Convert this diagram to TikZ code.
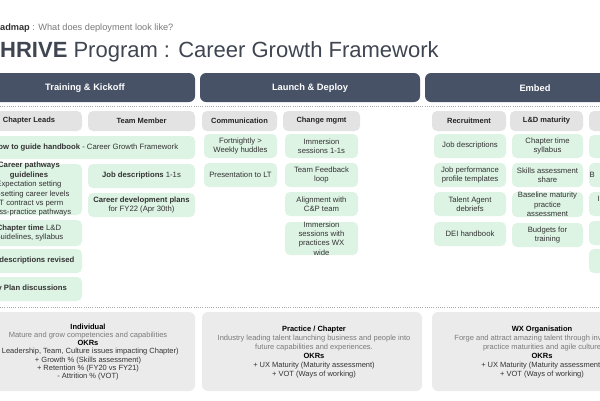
\documentclass[tikz,border=0pt]{standalone}
\usepackage{fontspec}
\setmainfont{Liberation Sans}
\definecolor{barc}{HTML}{475266}
\definecolor{hdrc}{HTML}{E3E3E3}
\definecolor{grn}{HTML}{DDF3E4}
\definecolor{botc}{HTML}{EBEBEB}
\definecolor{txtc}{HTML}{333333}
\definecolor{greyt}{HTML}{7A7A7A}
\definecolor{titc}{HTML}{3F4652}
\definecolor{dotc}{HTML}{AAAAAA}
\tikzset{
  bar/.style={fill=barc, rounded corners=6pt},
  bart/.style={inner sep=0, text=white, font=\bfseries\fontsize{9.3}{11}\selectfont},
  hdr/.style={fill=hdrc, rounded corners=5pt},
  hdrt/.style={inner sep=0, text=txtc!70!black, font=\bfseries\fontsize{7.5}{9}\selectfont},
  gbox/.style={fill=grn, rounded corners=5pt},
  gtxt/.style={inner sep=0, text=txtc, align=center, font=\fontsize{7.7}{9.4}\selectfont},
  bbox/.style={fill=botc, rounded corners=6pt},
  dotline/.style={draw=dotc, line width=0.6pt, dash pattern=on 0.6pt off 1.6pt},
}
\newcommand{\hb}[6]{\path[hdr] (#2,#3) rectangle (#4,#5); \node[hdrt] (#1) at ({(#2+#4)/2},{(#3+#5)/2}) {#6};}
\newcommand{\gb}[6]{\path[gbox] (#2,#3) rectangle (#4,#5); \node[gtxt] (#1) at ({(#2+#4)/2},{(#3+#5)/2}) {#6};}
\begin{document}
\begin{tikzpicture}[x=1pt,y=-1pt]
\useasboundingbox (0,0) rectangle (600,400);
\clip (0,0) rectangle (600,400);
\fill[white] (0,0) rectangle (600,400);

\node[anchor=west, inner sep=0, text=greyt, font=\fontsize{9.2}{11}\selectfont] (sub) at (0,28) {{\color{txtc}\bfseries admap} : What does deployment look like?};
\node[anchor=west, inner sep=0, text=titc, font=\fontsize{22}{26}\selectfont] (title) at (0,52) {\textbf{HRIVE} Program : Career Growth Framework};

% phase bars
\path[bar] (-25,73) rectangle (195,102); \node[bart] (b1) at (85,88) {Training \& Kickoff};
\path[bar] (200,73) rectangle (420,102); \node[bart] (b2) at (310,88) {Launch \& Deploy};
\path[bar] (425,73) rectangle (645,102); \node[bart] (b3) at (535,88) {Embed};

\draw[dotline] (0,106) -- (600,106);
\draw[dotline] (0,307) -- (600,307);

% column headers
\hb{h1}{-24}{111}{82}{131}{Chapter Leads}
\hb{h2}{88}{111}{195}{131}{Team Member}
\hb{h3}{202}{111}{277}{131}{Communication}
\hb{h4}{283}{111}{360}{131}{Change mgmt}
\hb{h5}{432}{111}{506}{131}{Recruitment}
\hb{h6}{510}{111}{583}{131}{L\&D maturity}
\hb{h7}{589}{111}{680}{131}{}

% Chapter leads
\gb{g1}{-24}{136}{195}{159}{\textbf{How to guide handbook} - Career Growth Framework}
\gb{g2}{-24}{164}{82}{215}{\textbf{Career pathways}\\\textbf{guidelines}\\Expectation setting\\Re-setting career levels\\FT contract vs perm\\Cross-practice pathways}
\gb{g3}{-24}{220}{82}{246}{\textbf{Chapter time} L\&D\\Guidelines, syllabus}
\gb{g4}{-24}{249}{82}{273}{\textbf{Job descriptions revised}}
\gb{g5}{-24}{277}{82}{301}{\textbf{My Plan discussions}}
% Team member
\gb{g6}{88}{164}{195}{188}{\textbf{Job descriptions} 1-1s}
\gb{g7}{88}{193}{195}{217}{\textbf{Career development plans}\\for FY22 (Apr 30th)}
% Communication
\gb{g8}{204}{134}{277}{158}{Fortnightly >\\Weekly huddles}
\gb{g9}{204}{163}{277}{187}{Presentation to LT}
% Change mgmt
\gb{g10}{285}{134}{358}{158}{Immersion\\sessions 1-1s}
\gb{g11}{285}{163}{358}{187}{Team Feedback\\loop}
\gb{g12}{285}{192}{358}{216}{Alignment with\\C\&P team}
\gb{g13}{285}{222}{358}{255}{Immersion\\sessions with\\practices WX\\wide}
% Recruitment
\gb{g14}{434}{134}{506}{158}{Job descriptions}
\gb{g15}{434}{163}{506}{187}{Job performance\\profile templates}
\gb{g16}{434}{192}{506}{216}{Talent Agent\\debriefs}
\gb{g17}{434}{222}{506}{246}{DEI handbook}
% L&D maturity
\gb{g18}{512}{134}{583}{158}{Chapter time\\syllabus}
\gb{g19}{512}{163}{583}{187}{Skills assessment\\share}
\gb{g20}{512}{192}{583}{217}{Baseline maturity\\practice\\assessment}
\gb{g21}{512}{223}{583}{247}{Budgets for\\training}
% cut-off column
\gb{g22}{589}{135}{680}{158}{}
\gb{g23}{589}{163}{680}{187}{}
\gb{g24}{589}{192}{680}{216}{}
\gb{g25}{589}{221}{680}{245}{}
\gb{g26}{589}{249}{680}{273}{}
\node[gtxt, anchor=west] (g23t) at (589.5,175) {B};
\node[gtxt, anchor=west] (g24t) at (597.5,199) {I};

% bottom boxes
\path[bbox] (-25,312) rectangle (195,391);
\node[inner sep=0, align=center, text=txtc, font=\fontsize{7.5}{8.1}\selectfont] (ind) at (88,352)
 {{\color{black}\bfseries Individual}\\{\color{greyt}Mature and grow competencies and capabilities}\\{\color{black}\bfseries OKRs}\\( Leadership, Team, Culture issues impacting Chapter)\\+ Growth \% (Skills assessment)\\+ Retention \% (FY20 vs FY21)\\- Attrition \% (VOT)};
\path[bbox] (202,312) rectangle (422,391);
\node[inner sep=0, align=center, text=txtc, font=\fontsize{7.5}{9}\selectfont] (prac) at (314,352.5)
 {{\color{black}\bfseries Practice / Chapter}\\{\color{greyt}Industry leading talent launching business and people into}\\{\color{greyt}future capabilities and experiences.}\\{\color{black}\bfseries OKRs}\\+ UX Maturity (Maturity assessment)\\+ VOT (Ways of working)};
\path[bbox] (432,312) rectangle (660,391);
\node[inner sep=0, align=center, text=txtc, font=\fontsize{7.5}{9}\selectfont] (org) at (542,352.5)
 {{\color{black}\bfseries WX Organisation}\\{\color{greyt}Forge and attract amazing talent through investing in}\\{\color{greyt}practice maturities and agile culture}\\{\color{black}\bfseries OKRs}\\+ UX Maturity (Maturity assessment)\\+ VOT (Ways of working)};
\end{tikzpicture}
\end{document}
